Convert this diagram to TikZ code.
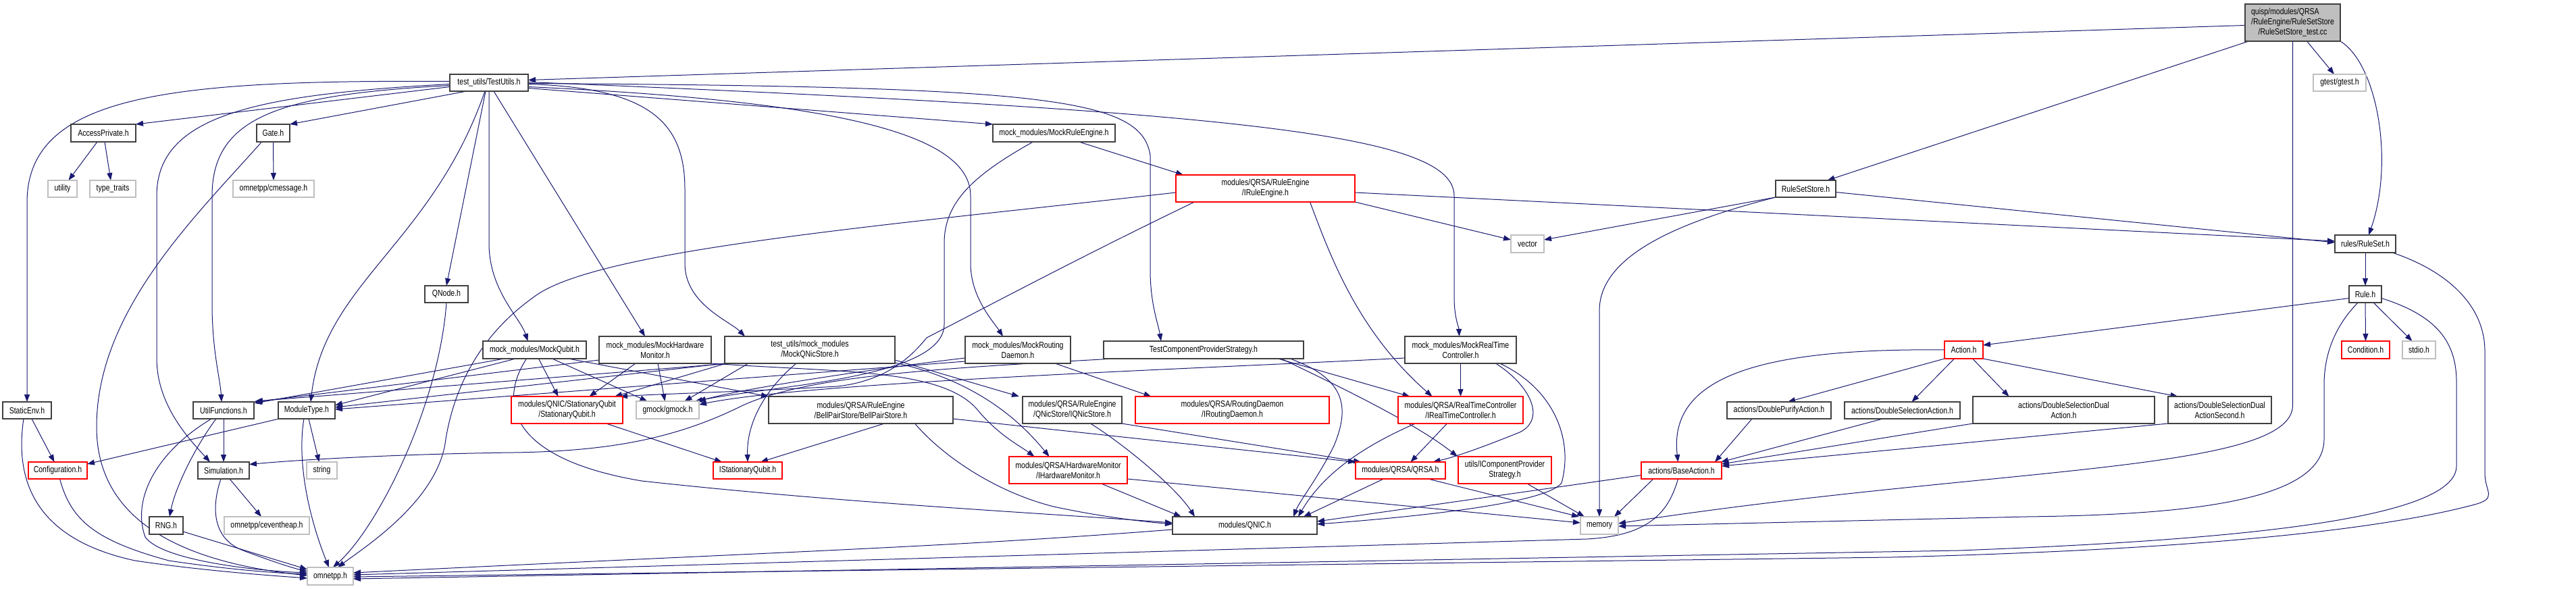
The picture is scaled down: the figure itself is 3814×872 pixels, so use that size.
\documentclass[tikz,border=0pt]{standalone}
\usepackage{fontspec}
\setmainfont{Liberation Sans}[FakeStretch=0.81]
\usetikzlibrary{arrows.meta}
\definecolor{eb}{HTML}{191970}
\definecolor{gb}{HTML}{BFBFBF}
\newcommand\graphfont{\fontsize{13}{15}\selectfont}
\newcommand\nbox[7]{\node[#1, minimum width=#5-#3, minimum height=#6-#4] (#2) at ({(#3+#5)/2},{-(#4+#6)/2}) {#7};}
\pgfdeclarelayer{bglayer}
\pgfdeclarelayer{edgelayer}
\pgfsetlayers{bglayer,edgelayer,main}
\tikzset{
 nb/.style={draw=black!75, line width=1.3pt, fill=white, inner sep=0pt, outer sep=0pt, font=\graphfont, align=center, text=black},
 nr/.style={nb, draw=red},
 ng/.style={nb, draw=gb},
 nm/.style={nb, fill=gb},
 ed/.style={draw=eb, line width=1.0pt, -{Triangle[length=11pt,width=8pt]}}
}
\begin{document}
\begin{tikzpicture}[x=1pt,y=1pt]
\useasboundingbox (0,0) rectangle (3814,-872);
\begin{pgfonlayer}{bglayer}
\fill[white] (0,0) rectangle (3814,-872);
\end{pgfonlayer}
% nodes
\nbox{nm}{MN}{3324}{6}{3465}{61}{\begin{tabular}{@{}l@{}}quisp/modules/QRSA\\/RuleEngine/RuleSetStore\\\multicolumn{1}{@{}c@{}}{/RuleSetStore\_test.cc}\end{tabular}}
\nbox{nb}{TU}{666}{110}{782}{135}{test\_utils/TestUtils.h}
\nbox{ng}{gtest}{3425}{110}{3503}{135}{gtest/gtest.h}
\nbox{nb}{AP}{105}{184}{201}{210}{AccessPrivate.h}
\nbox{nb}{Gate}{380}{184}{429}{210}{Gate.h}
\nbox{nb}{MRE}{1470}{184}{1651}{210}{mock\_modules/MockRuleEngine.h}
\nbox{nr}{IRE}{1741}{259}{2006}{299}{modules/QRSA/RuleEngine\\/IRuleEngine.h}
\nbox{ng}{utility}{71}{267}{114}{292}{utility}
\nbox{ng}{tt}{133}{267}{201}{292}{type\_traits}
\nbox{ng}{cmsg}{345}{267}{465}{292}{omnetpp/cmessage.h}
\nbox{nb}{RSS}{2629}{267}{2718}{292}{RuleSetStore.h}
\nbox{ng}{vector}{2237}{348}{2286}{374}{vector}
\nbox{nb}{RS}{3457}{348}{3547}{374}{rules/RuleSet.h}
\nbox{nb}{QNode}{629}{423}{693}{448}{QNode.h}
\nbox{nb}{Rule}{3478}{423}{3526}{448}{Rule.h}
\nbox{nb}{SE}{4}{595}{76}{620}{StaticEnv.h}
\nbox{nb}{MQ}{715}{505}{868}{531}{mock\_modules/MockQubit.h}
\nbox{nb}{MHM}{887}{498}{1053}{538}{mock\_modules/MockHardware\\Monitor.h}
\nbox{nb}{MQNS}{1073}{498}{1325}{538}{test\_utils/mock\_modules\\/MockQNicStore.h}
\nbox{nb}{MRD}{1429}{498}{1585}{538}{mock\_modules/MockRouting\\Daemon.h}
\nbox{nb}{TCPS}{1634}{505}{1930}{531}{TestComponentProviderStrategy.h}
\nbox{nb}{MRTC}{2080}{498}{2245}{538}{mock\_modules/MockRealTime\\Controller.h}
\nbox{nr}{Action}{2879}{505}{2936}{531}{Action.h}
\nbox{nr}{Cond}{3467}{505}{3538}{531}{Condition.h}
\nbox{ng}{stdio}{3557}{505}{3606}{531}{stdio.h}
\nbox{nb}{UF}{286}{595}{376}{620}{UtilFunctions.h}
\nbox{nb}{MT}{412}{595}{496}{620}{ModuleType.h}
\nbox{nr}{SQ}{757}{587}{922}{627}{modules/QNIC/StationaryQubit\\/StationaryQubit.h}
\nbox{ng}{gmock}{942}{594}{1035}{620}{gmock/gmock.h}
\nbox{nb}{BPS}{1138}{587}{1411}{627}{modules/QRSA/RuleEngine\\/BellPairStore/BellPairStore.h}
\nbox{nb}{IQNS}{1514}{587}{1661}{627}{modules/QRSA/RuleEngine\\/QNicStore/IQNicStore.h}
\nbox{nr}{IRD}{1681}{587}{1968}{627}{modules/QRSA/RoutingDaemon\\/IRoutingDaemon.h}
\nbox{nr}{IRTC}{2070}{587}{2255}{627}{modules/QRSA/RealTimeController\\/IRealTimeController.h}
\nbox{nb}{DPA}{2557}{595}{2711}{620}{actions/DoublePurifyAction.h}
\nbox{nb}{DSA}{2731}{595}{2902}{620}{actions/DoubleSelectionAction.h}
\nbox{nb}{DSDA}{2921}{587}{3190}{627}{actions/DoubleSelectionDual\\Action.h}
\nbox{nb}{DSDAS}{3210}{587}{3363}{627}{actions/DoubleSelectionDual\\ActionSecond.h}
\nbox{nr}{Conf}{42}{684}{129}{709}{Configuration.h}
\nbox{nb}{Sim}{293}{684}{369}{709}{Simulation.h}
\nbox{ng}{string}{454}{684}{499}{709}{string}
\nbox{nr}{ISQ}{1056}{684}{1158}{709}{IStationaryQubit.h}
\nbox{nr}{IHM}{1494}{676}{1669}{716}{modules/QRSA/HardwareMonitor\\/IHardwareMonitor.h}
\nbox{nr}{QRSA}{2007}{684}{2140}{709}{modules/QRSA/QRSA.h}
\nbox{nr}{ICPS}{2159}{676}{2297}{716}{utils/IComponentProvider\\Strategy.h}
\nbox{nr}{BA}{2430}{684}{2549}{709}{actions/BaseAction.h}
\nbox{nb}{RNG}{221}{765}{271}{791}{RNG.h}
\nbox{ng}{ceh}{332}{765}{458}{791}{omnetpp/ceventheap.h}
\nbox{nb}{QNIC}{1736}{765}{1950}{791}{modules/QNIC.h}
\nbox{ng}{memory}{2340}{765}{2396}{791}{memory}
\nbox{ng}{omnetpp}{455}{840}{523}{866}{omnetpp.h}
% edges
\begin{pgfonlayer}{edgelayer}
% main node
\draw[ed] ([yshift=-4]MN.west) -- ([yshift=4]TU.east);
\draw[ed] ([xshift=21]MN.south) -- ([xshift=-8]gtest.north);
\draw[ed] (MN.south east) .. controls (3520,-95) and (3545,-240) .. ([xshift=5]RS.north);
\draw[ed] ([xshift=-65]MN.south) -- ([xshift=32]RSS.north);
\draw[ed] (MN.south) -- (3394.5,-600) .. controls (3394.5,-700) and (2950,-690) .. ([yshift=3]memory.east);
% TestUtils
\draw[ed] ([yshift=-6]TU.west) -- (AP.north east);
\draw[ed] ([xshift=-33]TU.south) -- (Gate.north east);
\draw[ed] ([yshift=2]TU.west) .. controls (250,-118) and (40,-140) .. (40,-300) -- (SE.north);
\draw[ed] ([yshift=-2]TU.west) .. controls (380,-140) and (232,-170) .. (232,-290) -- (232,-530) .. controls (232,-600) and (280,-650) .. ([xshift=-20]Sim.north);
\draw[ed] ([yshift=-4]TU.west) .. controls (420,-140) and (314,-170) .. (314,-290) -- (314,-450) .. controls (314,-520) and (326,-560) .. ([xshift=-3]UF.north);
\draw[ed] ([xshift=-6]TU.south) .. controls (640,-360) and (480,-420) .. ([xshift=6]MT.north);
\draw[ed] ([xshift=-5]TU.south) -- (QNode.north);
\draw[ed] (TU.south) -- (724,-360) .. controls (724,-430) and (770,-470) .. ([xshift=-10]MQ.north);
\draw[ed] ([xshift=7]TU.south) -- ([xshift=-15]MHM.north);
\draw[ed] ([yshift=-2]TU.east) .. controls (960,-130) and (1014,-180) .. (1014,-280) -- (1014,-390) .. controls (1014,-450) and (1080,-475) .. ([xshift=-96]MQNS.north);
\draw[ed] ([yshift=-8]TU.east) -- (MRE.north west);
\draw[ed] ([yshift=-6]TU.east) .. controls (1250,-150) and (1437,-200) .. (1437,-290) -- (1437,-390) .. controls (1437,-440) and (1470,-475) .. ([xshift=-22]MRD.north);
\draw[ed] ([yshift=-1]TU.east) .. controls (1550,-128) and (1690,-145) .. (1703,-230) -- (1703,-400) .. controls (1703,-450) and (1715,-480) .. ([xshift=-63]TCPS.north);
\draw[ed] ([yshift=1]TU.east) .. controls (1850,-165) and (2153,-200) .. (2153,-290) -- (2153,-440) .. controls (2153,-470) and (2160,-485) .. ([xshift=-2]MRTC.north);
% left part
\draw[ed] ([xshift=-9]AP.south) -- ([xshift=9]utility.north);
\draw[ed] ([xshift=2]AP.south) -- ([xshift=-3]tt.north);
\draw[ed] (Gate.south) -- (cmsg.north);
\draw[ed] ([xshift=-17]Gate.south) .. controls (290,-320) and (143,-460) .. (143,-632) .. controls (143,-760) and (250,-830) .. ([yshift=1]omnetpp.west);
\draw[ed] ([xshift=7]SE.south) -- ([xshift=-5]Conf.north);
\draw[ed] ([xshift=-5]SE.south) .. controls (20,-720) and (60,-800) .. (200,-830) .. controls (300,-845) and (400,-852) .. ([yshift=-3]omnetpp.west);
\draw[ed] ([xshift=3]Conf.south) .. controls (105,-770) and (140,-800) .. (250,-830) .. controls (330,-842) and (400,-848) .. ([yshift=3]omnetpp.west);
\draw[ed] (UF.south) -- (Sim.north);
\draw[ed] ([xshift=-11]UF.south) .. controls (290,-660) and (260,-720) .. ([xshift=5]RNG.north);
\draw[ed] ([xshift=-18]UF.south) .. controls (230,-670) and (195,-740) .. (215,-795) .. controls (240,-830) and (380,-845) .. ([yshift=5]omnetpp.west);
\draw[ed] ([xshift=-41]MT.south) -- ([yshift=-3]Conf.north east);
\draw[ed] ([xshift=3]MT.south) -- ([xshift=-4]string.north);
\draw[ed] ([xshift=-4]MT.south) .. controls (440,-680) and (455,-760) .. ([xshift=-2]omnetpp.north);
\draw[ed] ([xshift=9]Sim.south) -- ([xshift=-8]ceh.north);
\draw[ed] ([xshift=-4]Sim.south) .. controls (310,-760) and (320,-800) .. (360,-815) .. controls (400,-830) and (430,-840) .. ([yshift=7]omnetpp.west);
\draw[ed] ([yshift=-9]RNG.east) -- ([yshift=10]omnetpp.west);
\draw[ed] (QNode.south) .. controls (650,-600) and (560,-780) .. ([xshift=4]omnetpp.north);
\draw[ed] ([yshift=-6]IRE.west) .. controls (1300,-335) and (880,-370) .. (790,-440) .. controls (720,-490) and (675,-560) .. (660,-650) .. controls (650,-740) and (540,-810) .. ([xshift=11]omnetpp.north);
% mocks
\draw[ed] ([xshift=-45]MQ.south) -- ([xshift=1,yshift=-2]UF.north east);
\draw[ed] ([yshift=-15]MHM.west) -- (UF.north east);
\draw[ed] ([xshift=8]MQNS.south west) -- ([xshift=2,yshift=1]UF.north east);
\draw[ed] ([xshift=-28]MQ.south) -- ([yshift=-5]MT.north east);
\draw[ed] (MQNS.south west) -- ([yshift=-8]MT.north east);
\draw[ed] ([yshift=-17]MRD.west) -- ([yshift=-11]MT.north east);
\draw[ed] ([xshift=6]MQ.south) -- ([xshift=-13]SQ.north);
\draw[ed] ([xshift=-29]MHM.south) -- ([xshift=33]SQ.north);
\draw[ed] ([xshift=2]MQNS.south west) -- ([xshift=-12]SQ.north east);
\draw[ed] ([xshift=-105]IRE.south) .. controls (1600,-380) and (1450,-460) .. (1372,-500) .. controls (1340,-540) and (1300,-565) .. (1240,-572) .. controls (1100,-580) and (980,-583) .. ([xshift=-4]SQ.north east);
\draw[ed] ([xshift=26]MQ.south) -- ([xshift=-30]gmock.north);
\draw[ed] ([xshift=4]MHM.south) -- ([xshift=-4]gmock.north);
\draw[ed] ([xshift=-91]MQNS.south) -- ([xshift=25]gmock.north);
\draw[ed] ([xshift=-31]MRE.south) .. controls (1440,-260) and (1398,-300) .. (1398,-360) -- (1398,-480) .. controls (1398,-560) and (1150,-570) .. ([xshift=-6]gmock.north east);
\draw[ed] ([yshift=-12]MRD.west) .. controls (1300,-545) and (1100,-575) .. ([xshift=-1]gmock.north east);
\draw[ed] ([yshift=-12]MRTC.west) .. controls (1800,-545) and (1200,-565) .. ([yshift=8]gmock.east);
\draw[ed] ([xshift=50]MQ.south) -- (BPS.north west);
\draw[ed] ([xshift=-12]MQ.south) .. controls (735,-600) and (760,-680) .. (950,-712) .. controls (1250,-745) and (1550,-760) .. ([yshift=4]QNIC.west);
\draw[ed] (MHM.south east) .. controls (1250,-552) and (1400,-545) .. (1450,-610) .. controls (1480,-645) and (1510,-660) .. ([xshift=-50]IHM.north);
\draw[ed] ([yshift=-15]MQNS.east) -- ([xshift=-5]IQNS.north west);
\draw[ed] ([yshift=-19]MQNS.east) .. controls (1430,-560) and (1500,-610) .. ([xshift=-28]IHM.north);
\draw[ed] ([xshift=-20]MQNS.south) .. controls (1140,-570) and (1105,-620) .. (ISQ.north);
\draw[ed] ([xshift=37]MRE.south) -- ([xshift=11]IRE.north west);
\draw[ed] ([xshift=55]MRD.south) -- ([xshift=-120]IRD.north);
\draw[ed] ([xshift=15]TCPS.south west) .. controls (1400,-545) and (1200,-555) .. (1100,-600) .. controls (1000,-650) and (900,-668) .. (760,-670) .. controls (600,-672) and (450,-680) .. ([yshift=9]Sim.east);
\draw[ed] ([xshift=110]TCPS.south) -- ([xshift=-75]IRTC.north);
\draw[ed] ([xshift=115]TCPS.south) .. controls (2000,-580) and (2100,-630) .. ([xshift=-70]ICPS.north);
\draw[ed] ([xshift=128]TCPS.south) .. controls (1990,-560) and (2000,-600) .. (1975,-660) .. controls (1950,-710) and (1925,-740) .. ([xshift=-35]QNIC.north east);
\draw[ed] (MRTC.south) -- (IRTC.north);
\draw[ed] ([xshift=52]MRTC.south) .. controls (2265,-570) and (2290,-620) .. (2250,-640) .. controls (2200,-660) and (2160,-675) .. ([xshift=48]QRSA.north);
\draw[ed] ([xshift=58]MRTC.south) .. controls (2300,-575) and (2330,-650) .. (2312,-715) .. controls (2290,-745) and (2100,-765) .. ([yshift=2]QNIC.east);
% rule engine side
\draw[ed] ([yshift=-6]IRE.east) -- ([yshift=4]RS.west);
\draw[ed] (IRE.south east) -- ([yshift=6]vector.west);
\draw[ed] ([xshift=66]IRE.south) .. controls (1970,-380) and (2010,-490) .. ([xshift=-42]IRTC.north);
\draw[ed] ([yshift=-5]RSS.east) -- ([yshift=2]RS.west);
\draw[ed] (RSS.south west) -- ([yshift=6]vector.east);
\draw[ed] (RSS.south west) .. controls (2480,-330) and (2368,-380) .. (2368,-460) -- (memory.north);
\draw[ed] (RS.south) -- (Rule.north);
\draw[ed] ([xshift=40]RS.south) .. controls (3620,-400) and (3679,-450) .. (3679,-520) -- (3679,-700) .. controls (3679,-730) and (3700,-738) .. (3660,-748) .. controls (3500,-790) and (3200,-815) .. (2800,-825) -- ([yshift=-1]omnetpp.east);
\draw[ed] ([yshift=-6]Rule.west) -- ([yshift=7]Action.east);
\draw[ed] (Rule.south) -- (Cond.north);
\draw[ed] ([xshift=12]Rule.south) -- ([xshift=-10]stdio.north);
\draw[ed] ([xshift=-11]Rule.south) .. controls (3460,-480) and (3441,-520) .. (3441,-570) -- (3441,-650) .. controls (3441,-740) and (3250,-762) .. (3000,-765) -- ([yshift=-1]memory.east);
\draw[ed] ([yshift=-6]Rule.east) .. controls (3600,-465) and (3637,-500) .. (3637,-565) -- (3637,-690) .. controls (3637,-770) and (3300,-800) .. (2900,-815) -- ([yshift=-4]omnetpp.east);
\draw[ed] (Action.west) .. controls (2600,-515) and (2470,-560) .. ([xshift=-5]BA.north);
\draw[ed] (Action.south west) -- ([xshift=13]DPA.north);
\draw[ed] ([xshift=-14]Action.south) -- ([xshift=14]DSA.north);
\draw[ed] ([xshift=13]Action.south) -- ([xshift=-81]DSDA.north);
\draw[ed] (Action.south east) -- ([xshift=-62]DSDAS.north);
\draw[ed] ([xshift=-40]DPA.south) -- ([xshift=-10]BA.north east);
\draw[ed] ([xshift=-29]DSA.south) -- ([xshift=-1]BA.north east);
\draw[ed] (DSDA.south west) -- ([yshift=-3]BA.north east);
\draw[ed] (DSDAS.south west) -- ([yshift=-6]BA.north east);
\draw[ed] ([xshift=18]BA.south west) -- ([xshift=-6]memory.north east);
\draw[ed] ([yshift=-7]BA.west) -- ([yshift=6]QNIC.east);
\draw[ed] ([xshift=-5]BA.south) .. controls (2470,-760) and (2440,-793) .. (2350,-798) -- ([yshift=2]omnetpp.east);
% interfaces
\draw[ed] ([xshift=58]SQ.south) -- ([xshift=-38]ISQ.north);
\draw[ed] ([xshift=35]BPS.south) -- ([xshift=19]ISQ.north);
\draw[ed] ([xshift=80]BPS.south) .. controls (1400,-680) and (1480,-730) .. (1560,-750) .. controls (1630,-765) and (1690,-772) .. ([yshift=2]QNIC.west);
\draw[ed] ([yshift=-13]BPS.east) -- (QRSA.north west);
\draw[ed] ([xshift=27]IQNS.south) .. controls (1660,-655) and (1740,-720) .. ([xshift=-74]QNIC.north);
\draw[ed] (IQNS.south east) -- ([xshift=8]QRSA.north west);
\draw[ed] ([xshift=49]IHM.south) -- ([xshift=-94]QNIC.north);
\draw[ed] ([yshift=-13]IHM.east) -- ([yshift=4]memory.west);
\draw[ed] ([xshift=-20]IRTC.south) -- ([xshift=15]QRSA.north);
\draw[ed] ([xshift=-67]IRTC.south) .. controls (2020,-660) and (1960,-700) .. ([xshift=-28]QNIC.north east);
\draw[ed] ([xshift=-25]QRSA.south) -- ([xshift=-20]QNIC.north east);
\draw[ed] ([xshift=41]QRSA.south) -- ([xshift=-2]memory.north west);
\draw[ed] ([xshift=33]ICPS.south) -- ([xshift=-22]memory.north);
\draw[ed] ([yshift=-6]QNIC.west) .. controls (1400,-810) and (1200,-815) .. ([yshift=5]omnetpp.east);
\end{pgfonlayer}
\end{tikzpicture}
\end{document}
